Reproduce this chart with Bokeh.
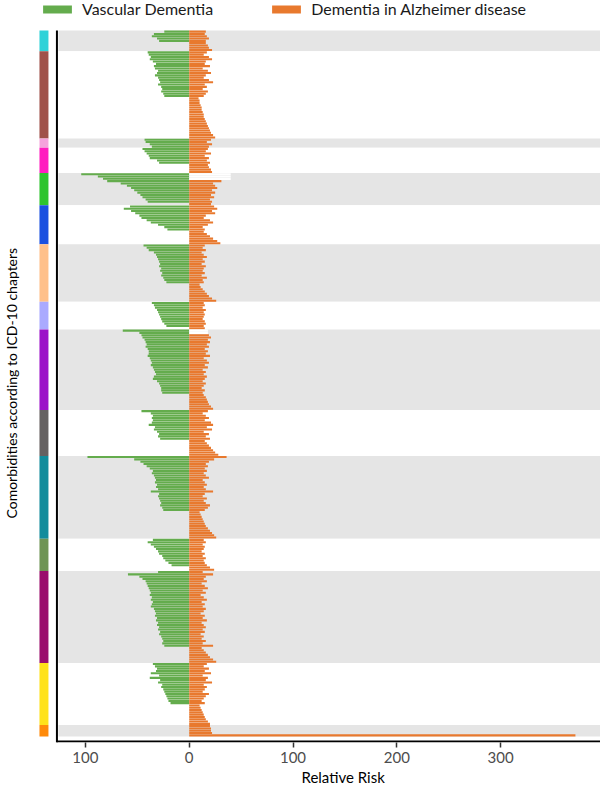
from bokeh.plotting import figure
from bokeh.models import Range1d, FixedTicker, Legend, LegendItem, Title
from bokeh.embed import file_html
from bokeh.resources import INLINE

# ---------------- data ----------------
chapter_colors = ["#2fd2d8", "#a0524a", "#f5a3dc", "#ff1ebf", "#2ec42e", "#1a50e0", "#ffc08a",
                  "#aaaaff", "#9c12c8", "#656161", "#128c9c", "#6f9455", "#9a0e6c", "#ffe21a", "#ff8a0a"]

cyan_vd = [24, 34, 36, 31, 29, 0, 0, 0, 0]
cyan_ad = [16, 15, 17, 19, 16, 16, 18, 19, 22]

brown_vd = [40, 39, 37, 38, 35, 32, 34, 33, 30, 31, 33, 30, 29, 28, 30, 27, 26, 27, 25, 24,
            0, 0, 0, 0, 0, 0, 0, 0, 0, 0, 0, 0, 0, 0, 0, 0, 0, 0]
brown_ad = [17, 14, 19, 22, 16, 15, 20, 13, 18, 21, 16, 14, 19, 23, 15, 17, 13, 18, 16, 14,
            9, 10, 10, 11, 12, 12, 13, 14, 14, 15, 16, 17, 18, 19, 20, 21, 23, 25]

pink_vd = [43, 42, 38, 36]
pink_ad = [21, 17, 22, 19]

magenta_vd = [45, 43, 41, 39, 38, 31, 29, 0, 0, 0, 0]
magenta_ad = [18, 16, 21, 15, 19, 17, 20, 18, 19, 21, 22]

green_vd = [104, 88, 83, 79, 66, 60, 56, 53, 50, 47, 45, 42, 40, 0]
green_ad = [0, 0, 0, 31, 23, 25, 27, 22, 25, 21, 24, 20, 22, 21]
green_blank = [40, 40, 40, 0, 0, 0, 0, 0, 0, 0, 0, 0, 0, 0]

blue_vd = [57, 63, 56, 52, 48, 46, 41, 37, 30, 24, 21, 0, 0, 0, 0, 0, 0]
blue_ad = [24, 27, 22, 25, 16, 14, 20, 23, 18, 13, 15, 14, 17, 20, 23, 27, 30]

lorange_vd = [44, 41, 39, 34, 32, 31, 30, 29, 28, 29, 27, 28, 26, 27, 25, 24, 22,
              0, 0, 0, 0, 0, 0, 0, 0]
lorange_ad = [15, 13, 16, 12, 14, 17, 13, 15, 12, 16, 14, 13, 15, 12, 17, 13, 14,
              10, 11, 13, 15, 17, 19, 22, 26]

lavender_vd = [36, 34, 33, 31, 30, 29, 28, 27, 26, 24, 22, 0]
lavender_ad = [14, 15, 13, 16, 14, 15, 14, 13, 15, 16, 14, 15]

purple_vd = [64, 48, 46, 45, 43, 42, 41, 42, 40, 39, 39, 40, 38, 37, 36, 37, 35, 34, 33, 32,
             34, 35, 31, 29, 28, 27, 27, 26, 0, 0, 0, 0, 0, 0, 0]
purple_ad = [0, 0, 19, 21, 18, 20, 17, 19, 15, 18, 16, 20, 14, 17, 19, 15, 18, 13, 16, 14,
             17, 15, 13, 16, 14, 12, 15, 13, 14, 16, 17, 18, 19, 21, 23]
purple_blank = [18, 18, 0, 0, 0, 0, 0, 0, 0, 0, 0, 0, 0, 0, 0, 0, 0, 0, 0, 0,
                0, 0, 0, 0, 0, 0, 0, 0, 0, 0, 0, 0, 0, 0, 0]

grey_vd = [46, 37, 35, 36, 35, 36, 39, 33, 34, 31, 29, 30, 28, 0, 0, 0, 0, 0, 0, 0]
grey_ad = [18, 13, 16, 19, 15, 21, 23, 17, 22, 14, 19, 16, 20, 15, 17, 19, 21, 23, 25, 28]

teal_vd = [98, 53, 47, 44, 41, 38, 35, 36, 34, 33, 32, 33, 31, 32, 30, 37, 29, 30, 29, 28,
           27, 28, 26, 25, 0, 0, 0, 0, 0, 0, 0, 0, 0, 0, 0, 0]
teal_ad = [36, 24, 19, 16, 18, 15, 17, 14, 16, 19, 13, 15, 17, 14, 16, 23, 15, 13, 17, 14,
           16, 20, 18, 15, 10, 11, 12, 13, 14, 15, 16, 18, 20, 22, 24, 26]

olive_vd = [35, 40, 37, 34, 32, 30, 29, 26, 25, 23, 20, 17, 0, 0]
olive_ad = [14, 16, 13, 15, 14, 12, 15, 13, 16, 14, 15, 17, 20, 24]

plum_vd = [30, 59, 48, 45, 42, 41, 40, 39, 38, 37, 38, 36, 37, 35, 36, 37, 34, 33, 32, 33,
           31, 32, 30, 31, 29, 30, 28, 29, 27, 26, 25, 26, 24, 0, 0, 0, 0, 0, 0, 0]
plum_ad = [13, 23, 16, 14, 17, 12, 15, 18, 13, 16, 11, 14, 17, 12, 15, 13, 16, 14, 11, 15,
           13, 17, 12, 14, 16, 13, 15, 11, 14, 12, 16, 13, 23, 12, 14, 16, 18, 20, 23, 26]

yellow_vd = [35, 33, 31, 32, 37, 29, 38, 28, 30, 26, 27, 25, 24, 23, 22, 21, 20, 18,
             0, 0, 0, 0, 0, 0, 0, 0, 0]
yellow_ad = [17, 14, 19, 15, 21, 13, 18, 16, 22, 14, 17, 15, 13, 19, 16, 14, 12, 15,
             10, 11, 12, 13, 14, 15, 16, 18, 20]

orange_vd = [0, 0, 0, 0, 0]
orange_ad = [20, 21, 21, 22, 372]

chapters_vd = [cyan_vd, brown_vd, pink_vd, magenta_vd, green_vd, blue_vd, lorange_vd, lavender_vd,
               purple_vd, grey_vd, teal_vd, olive_vd, plum_vd, yellow_vd, orange_vd]
chapters_ad = [cyan_ad, brown_ad, pink_ad, magenta_ad, green_ad, blue_ad, lorange_ad, lavender_ad,
               purple_ad, grey_ad, teal_ad, olive_ad, plum_ad, yellow_ad, orange_ad]
chapters_blank = {4: green_blank, 8: purple_blank}

x_ticks = [-100, 0, 100, 200, 300]
x_tick_labels = {-100: "100", 0: "0", 100: "100", 200: "200", 300: "300"}

# ---------------- build rows ----------------
vd_y, vd_v, ad_y, ad_v, bl_y, bl_v = [], [], [], [], [], []
band_top, band_bot, band_col, strip_col = [], [], [], []
row = 0
for ci, (vds, ads) in enumerate(zip(chapters_vd, chapters_ad)):
    start = row
    blanks = chapters_blank.get(ci, [0] * len(vds))
    for v, a, b in zip(vds, ads, blanks):
        yc = row + 0.5
        if v > 0:
            vd_y.append(yc); vd_v.append(-v)
        if a > 0:
            ad_y.append(yc); ad_v.append(a)
        if b > 0:
            bl_y.append(yc); bl_v.append(b)
        row += 1
    band_top.append(start); band_bot.append(row)
    band_col.append("#e5e5e5" if ci % 2 == 0 else "#ffffff")
    strip_col.append(chapter_colors[ci])
N = row

# ---------------- geometry (page pixels -> data) ----------------
W, H = 600, 796
FRAME_L, FRAME_B = 18, 742
PX_UNIT = 1.04
ZERO_PX = 188.0
ROW_PX = 706.0 / N
def xd(px):
    return (px - ZERO_PX) / PX_UNIT
def yd(px):
    return (px - 30.0) / ROW_PX

p = figure(width=W, height=H, output_backend="svg", toolbar_location=None,
           x_range=Range1d(xd(FRAME_L), xd(W)), y_range=Range1d(yd(FRAME_B), yd(0)),
           min_border_left=FRAME_L, min_border_right=0, min_border_top=0,
           min_border_bottom=H - FRAME_B)
p.outline_line_color = None
p.grid.visible = False
p.yaxis.visible = False
p.background_fill_color = "white"

FONT = "Lato"

# bands
p.quad(left=xd(57), right=xd(W + 10), top=band_top, bottom=band_bot, fill_color=band_col, line_color=None)
# chapter strip
p.quad(left=xd(38), right=xd(47), top=band_top, bottom=band_bot, fill_color=strip_col, line_color=None)

vd_r = p.hbar(y=vd_y, left=vd_v, right=0, height=0.9, fill_color="#64ac4d", line_color=None)
ad_r = p.hbar(y=ad_y, left=0, right=ad_v, height=0.9, fill_color="#e8792e", line_color=None)
p.hbar(y=bl_y, left=0, right=bl_v, height=0.95, fill_color="white", line_color=None)

# axis lines
p.segment(x0=xd(55.5), x1=xd(55.5), y0=yd(30), y1=yd(742), line_color="black", line_width=2)
p.segment(x0=xd(55), x1=xd(W + 10), y0=yd(741), y1=yd(741), line_color="black", line_width=2)

ax = p.xaxis[0]
ax.ticker = FixedTicker(ticks=x_ticks)
ax.major_label_overrides = x_tick_labels
ax.axis_line_color = None
ax.major_tick_line_color = "#333333"
ax.major_tick_line_width = 1.5
ax.major_tick_out = 5
ax.major_tick_in = 0
ax.minor_tick_line_color = None
ax.major_label_standoff = 4
ax.major_label_text_font = FONT
ax.major_label_text_font_size = "15px"
ax.major_label_text_color = "#4d4d4d"

xt = Title(text="Relative Risk", align="left", offset=282, text_font=FONT, text_font_size="15px",
           text_font_style="normal", text_color="black", standoff=0)
p.add_layout(xt, "below")

yt = Title(text="Comorbidities according to ICD-10 chapters", align="left", offset=224, text_font=FONT,
           text_font_size="14px", text_font_style="normal", text_color="black", standoff=0)
p.add_layout(yt, "left")

legend = Legend(items=[LegendItem(label="Vascular Dementia", renderers=[vd_r]),
                       LegendItem(label="Dementia in Alzheimer disease", renderers=[ad_r])],
                orientation="horizontal", location=(20, FRAME_B - 18), glyph_width=36, glyph_height=10,
                label_height=18, label_standoff=7, spacing=55, padding=0, margin=0,
                background_fill_alpha=0, border_line_alpha=0,
                label_text_font=FONT, label_text_font_size="16px", label_text_color="#1a1a1a")
p.add_layout(legend, "center")

open("out.html", "w").write(file_html(p, INLINE))
